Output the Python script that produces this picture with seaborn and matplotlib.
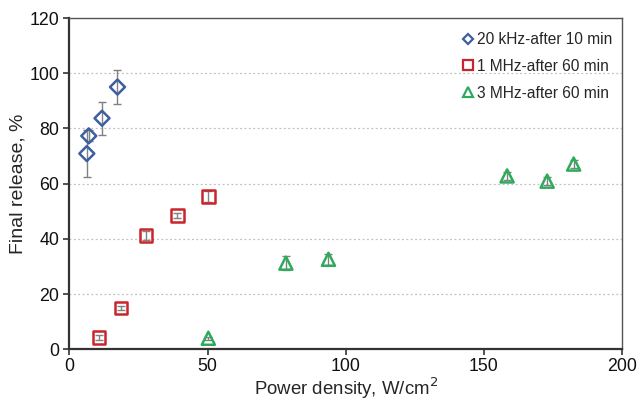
import matplotlib
matplotlib.use('Agg')
import matplotlib.pyplot as plt
import seaborn as sns
from matplotlib.lines import Line2D

# Data
khz_x = [6.3, 7.0, 11.8, 17.4]
khz_y = [70.9, 77.3, 83.7, 95.0]
khz_err = [8.5, 2.0, 6.0, 6.0]

mhz1_x = [10.7, 18.7, 27.7, 39.1, 50.3]
mhz1_y = [4.2, 14.9, 41.2, 48.4, 55.3]
mhz1_err = [0.8, 0.8, 1.5, 1.0, 2.0]

mhz3_x = [50.3, 78.4, 93.8, 158.5, 173.0, 182.6]
mhz3_y = [4.0, 31.2, 32.6, 62.8, 60.9, 67.1]
mhz3_err = [0.6, 2.5, 2.0, 1.5, 1.5, 1.5]

labels = ['20 kHz-after 10 min', '1 MHz-after 60 min', '3 MHz-after 60 min']
colors = ['#3d5fa0', '#c8252d', '#2eaa5c']
markers = ['D', 's', '^']
sizes = [58, 80, 88]

sns.set_style('white')
plt.rcParams['font.family'] = ['Liberation Sans', 'DejaVu Sans']

fig = plt.figure(figsize=(6.37, 4.01), dpi=100)
ax = fig.add_axes([0.109, 0.129, 0.867, 0.826])

series = [(khz_x, khz_y, khz_err), (mhz1_x, mhz1_y, mhz1_err), (mhz3_x, mhz3_y, mhz3_err)]
for (xs, ys, es), c, m, s in zip(series, colors, markers, sizes):
    ax.errorbar(xs, ys, yerr=es, fmt='none', ecolor='#808080', elinewidth=1, capsize=3, capthick=1, zorder=2)
    sns.scatterplot(x=xs, y=ys, marker=m, s=s, facecolor='none', edgecolor=c, linewidth=1.8, ax=ax, zorder=3)

ax.set_xlim(0, 200)
ax.set_ylim(0, 120)
ax.set_xticks([0, 50, 100, 150, 200])
ax.set_yticks([0, 20, 40, 60, 80, 100, 120])
ax.yaxis.grid(True, linestyle=(0, (1.5, 2)), color='#c0c0c0', linewidth=0.9)
ax.set_axisbelow(True)
ax.tick_params(axis='both', labelsize=12.8, direction='out', length=4, width=1.2, colors='#333333', labelcolor='#111111')
ax.tick_params(axis='x', pad=2.5)
ax.tick_params(axis='both', bottom=True, left=True)
for side in ['left', 'bottom']:
    ax.spines[side].set_linewidth(1.6)
    ax.spines[side].set_color('#333333')
for side in ['top', 'right']:
    ax.spines[side].set_linewidth(1.0)
    ax.spines[side].set_color('#555555')

ax.set_xlabel('Power density, W/cm$^2$', fontsize=13.4, labelpad=0.5)
ax.set_ylabel('Final release, %', fontsize=14, labelpad=2)

handles = [Line2D([], [], linestyle='none', marker=m, markersize=ms, markerfacecolor='none',
                  markeredgecolor=c, markeredgewidth=1.6)
           for m, c, ms in zip(markers, colors, [5, 7, 7])]
ax.legend(handles, labels, loc='upper right', frameon=False, fontsize=11.2,
          handletextpad=0.1, handlelength=1.0, labelspacing=0.75, borderaxespad=0.3,
          bbox_to_anchor=(1.003, 0.99))

fig.savefig('out.png', dpi=100)
